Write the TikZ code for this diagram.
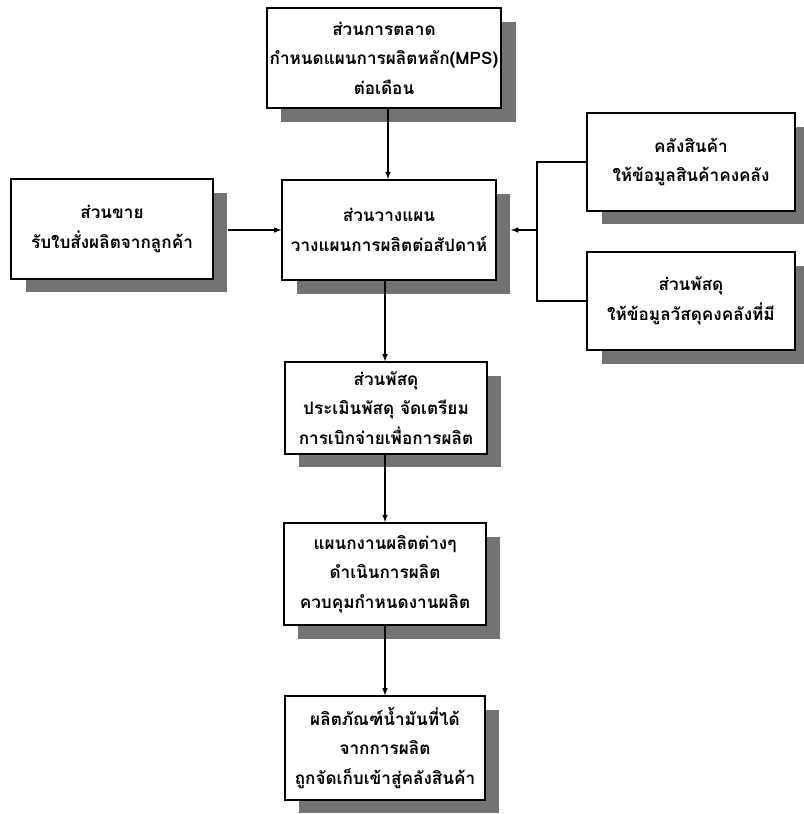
\documentclass[tikz,border=0pt]{standalone}
\usepackage{fontspec}
\newfontfamily\thaifont[Script=Thai]{Loma}
\usepackage{tikz}
\usetikzlibrary{shadows}
\usetikzlibrary{positioning}

\tikzset{
  unitbox/.style={draw, line width=1.3pt, fill=white, align=center,
    font=\thaifont\bfseries\fontsize{12.2}{21}\selectfont, inner sep=2pt,
    drop shadow={shadow xshift=0.36cm, shadow yshift=-0.34cm, fill=black!55, opacity=1}},
  flow/.style={line width=0.8pt}
}

\begin{document}
\begin{tikzpicture}[x=0.025cm, y=-0.025cm]
          \useasboundingbox (0,0) rectangle (803,814);
          \node[unitbox, minimum width=5.78cm, minimum height=2.5cm] (mkt) at (384,58)
            {ส่วนการตลาด\\กำหนดแผนการผลิตหลัก(MPS)\\ต่อเดือน};
          \node[unitbox, minimum width=5.03cm, minimum height=2.48cm] (sales) at (112,229)
            {ส่วนขาย\\รับใบสั่งผลิตจากลูกค้า};
          \node[unitbox, minimum width=5.33cm, minimum height=2.5cm] (plan) at (389,230)
            {ส่วนวางแผน\\วางแผนการผลิตต่อสัปดาห์};
          \node[unitbox, minimum width=5.18cm, minimum height=2.43cm] (store) at (691,162)
            {คลังสินค้า\\ให้ข้อมูลสินค้าคงคลัง};
          \node[unitbox, minimum width=5.18cm, minimum height=2.45cm] (supply) at (691,301)
            {ส่วนพัสดุ\\ให้ข้อมูลวัสดุคงคลังที่มี};
          \node[unitbox, minimum width=5.05cm, minimum height=2.28cm] (stock) at (386,408)
            {ส่วนพัสดุ\\ประเมินพัสดุ จัดเตรียม\\การเบิกจ่ายเพื่อการผลิต};
          \node[unitbox, minimum width=5.05cm, minimum height=2.55cm] (prod) at (385,574)
            {แผนกงานผลิตต่างๆ\\ดำเนินการผลิต\\ควบคุมกำหนดงานผลิต};
          \node[unitbox, minimum width=5cm, minimum height=2.58cm] (oil) at (385,748)
            {ผลิตภัณฑ์น้ำมันที่ได้\\จากการผลิต\\ถูกจัดเก็บเข้าสู่คลังสินค้า};
          % right hand bus
          \coordinate (busT) at (537,162);
          \coordinate (busB) at (537,301);
          \draw[flow] (store.west) -- (busT) -- (busB) -- (supply.west);
          \draw[flow,-latex] (busT |- plan.east) -- ([xshift=0.36cm]plan.east);
          % arrows
          \draw[flow,-latex] ([xshift=0.36cm]sales.east |- plan.west) -- (plan.west);
          \draw[flow,-latex] (mkt.south -| 388,0) -- (plan.north -| 388,0);
          \draw[flow,-latex] (plan.south -| 385,0) -- (stock.north -| 385,0);
          \draw[flow,-latex] (stock.south -| 385,0) -- (prod.north -| 385,0);
          \draw[flow,-latex] (prod.south -| 385,0) -- (oil.north -| 385,0);
        \end{tikzpicture}
\end{document}
